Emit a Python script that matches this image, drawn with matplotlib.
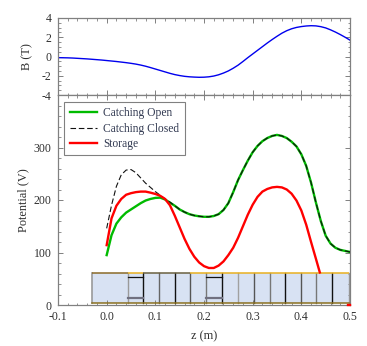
import numpy as np
import matplotlib
matplotlib.use('Agg')
from matplotlib import pyplot as plt

plt.rcParams['font.family'] = ['Liberation Serif', 'DejaVu Serif']

# magnetic field on axis, read every 0.01 m
z_b = [-0.10, -0.09, -0.08, -0.07, -0.06, -0.05, -0.04, -0.03, -0.02, -0.01,
       0.00, 0.01, 0.02, 0.03, 0.04, 0.05, 0.06, 0.07, 0.08, 0.09,
       0.10, 0.11, 0.12, 0.13, 0.14, 0.15, 0.16, 0.17, 0.18, 0.19,
       0.20, 0.21, 0.22, 0.23, 0.24, 0.25, 0.26, 0.27, 0.28, 0.29,
       0.30, 0.31, 0.32, 0.33, 0.34, 0.35, 0.36, 0.37, 0.38, 0.39,
       0.40, 0.41, 0.42, 0.43, 0.44, 0.45, 0.46, 0.47, 0.48, 0.49, 0.50]
b_field = [-0.12, -0.13, -0.14, -0.16, -0.19, -0.22, -0.25, -0.29, -0.33, -0.37,
           -0.42, -0.47, -0.52, -0.58, -0.64, -0.71, -0.79, -0.89, -1.01, -1.15,
           -1.30, -1.45, -1.60, -1.75, -1.88, -1.98, -2.06, -2.11, -2.14, -2.16,
           -2.15, -2.11, -2.03, -1.90, -1.72, -1.50, -1.22, -0.90, -0.52, -0.12,
           0.26, 0.64, 1.02, 1.40, 1.76, 2.10, 2.42, 2.68, 2.88, 3.02,
           3.11, 3.17, 3.20, 3.18, 3.10, 2.97, 2.77, 2.54, 2.28, 2.00, 1.70]

# potentials
z_pot = [0.00, 0.01, 0.02, 0.03, 0.04, 0.05, 0.06, 0.07, 0.08, 0.09,
         0.10, 0.11, 0.12, 0.13, 0.14, 0.15, 0.16, 0.17, 0.18, 0.19,
         0.20, 0.21, 0.22, 0.23, 0.24, 0.25, 0.26, 0.27, 0.28, 0.29,
         0.30, 0.31, 0.32, 0.33, 0.34, 0.35, 0.36, 0.37, 0.38, 0.39,
         0.40, 0.41, 0.42, 0.43, 0.44, 0.45, 0.46, 0.47, 0.48, 0.49, 0.50]
open_v = [95, 133, 155, 167, 176, 182, 188, 194, 199, 202,
          204, 204.5, 201, 195, 189, 182, 177, 173, 170.5, 169,
          168, 168, 169.5, 173, 181, 194, 215, 238, 257, 275,
          291, 303, 312, 318, 322, 324, 322, 318, 311, 302,
          287, 265, 233, 195, 160, 132, 117, 109, 105, 103, 101]
closed_v = [146, 190, 226, 248, 257, 258, 252, 242, 232, 224,
            216, 209, 202, 196, 189, 182, 177, 173, 170.5, 169,
            168, 168, 169.5, 173, 181, 194, 215, 238, 257, 275,
            291, 303, 312, 318, 322, 324, 322, 318, 311, 302,
            287, 265, 233, 195, 160, 132, 117, 109, 105, 103, 101]

z_store = [0.00, 0.01, 0.02, 0.03, 0.04, 0.05, 0.06, 0.07, 0.08, 0.09,
           0.10, 0.11, 0.12, 0.13, 0.14, 0.15, 0.16, 0.17, 0.18, 0.19,
           0.20, 0.21, 0.22, 0.23, 0.24, 0.25, 0.26, 0.27, 0.28, 0.29,
           0.30, 0.31, 0.32, 0.33, 0.34, 0.35, 0.36, 0.37, 0.38, 0.39,
           0.40, 0.41, 0.42, 0.43, 0.438]
store_v = [114, 165, 189, 202, 210, 213, 215, 216, 216, 214,
           211.5, 208, 202, 190, 170, 148, 126, 107, 92, 81,
           74, 70.5, 70.5, 75, 83, 95, 109, 128, 150, 172,
           191, 206, 216, 221, 224, 225, 224, 220, 212, 199,
           180, 153, 120, 88, 62]

z_store_end = [0.495, 0.50]
store_end_v = [0, 0]

# trap electrodes along z
trap_left = -0.031
trap_right = 0.497
trap_bottom = 4.4
trap_top = 61.5
dividers = [0.044, 0.075, 0.108, 0.141, 0.172, 0.205, 0.237, 0.27, 0.302, 0.335, 0.367, 0.399, 0.431, 0.464]
divider_colors = ['#9a9a9a', '#111111', '#666666', '#111111', '#555555', '#777777', '#111111',
                  '#a0a0a0', '#555555', '#777777', '#111111', '#555555', '#777777', '#111111']
inner_spans = [(0.044, 0.075), (0.205, 0.237)]
inner_top = 53
inner_low = 14
# top edge colours, stretch by stretch
top_edges = [(-0.031, 0.044), (0.044, 0.075), (0.075, 0.172), (0.172, 0.205), (0.205, 0.497)]
top_colors = ['#8a6a28', '#e8b020', '#6a6040', '#e8b020', '#e8b020']

gray = '#808080'
txt = '#303030'
W, H = 367.0, 346.0
L, R = 58.0, 350.0

fig = plt.figure(figsize=(3.67, 3.46), dpi=100)
ax1 = fig.add_axes([L/W, 1-95/H, (R-L)/W, 77/H])
ax2 = fig.add_axes([L/W, 1-305/H, (R-L)/W, 210/H])

ax1.plot(z_b, b_field, color='#0000ee', lw=1.0)
ax1.set_xlim(-0.1, 0.5)
ax1.set_ylim(-4, 4)
ax1.set_yticks([-4, -2, 0, 2, 4])
ax1.set_yticklabels(['-4', '-2', '0', '2', '4'])
ax1.set_yticks(np.arange(-4, 4.1, 0.5), minor=True)
ax1.set_ylabel('B (T)', fontsize=8.8, color=txt)
ax1.yaxis.set_label_coords(-0.086, 0.5)

# trap goes under the curves
ax2.fill_between([trap_left, trap_right], trap_bottom, trap_top, color='#d8e2f3', lw=0, zorder=1)
ax2.plot([trap_left, trap_left], [trap_bottom, trap_top], color='#999999', lw=1.2, zorder=2)
ax2.plot([trap_right, trap_right], [trap_bottom, trap_top], color='#999999', lw=1.0, zorder=2)
for d, c in zip(dividers, divider_colors):
    ax2.plot([d, d], [trap_bottom, trap_top], color=c, lw=1.0, zorder=2)
for a, b in inner_spans:
    ax2.plot([a, b], [inner_top, inner_top], color='#111111', lw=0.9, zorder=2)
    ax2.plot([a, b], [inner_low, inner_low], color='#707080', lw=1.6, zorder=2)
for (a, b), c in zip(top_edges, top_colors):
    ax2.plot([a, b], [trap_top, trap_top], color=c, lw=1.1, zorder=3, solid_capstyle='butt')
ax2.plot([trap_left, trap_right], [trap_bottom, trap_bottom], color='#8a7020', lw=1.1, zorder=3)

ax2.plot(z_pot, open_v, color='#00bb00', lw=1.7, zorder=4, label='Catching Open')
ax2.plot(z_pot, closed_v, color='#111111', lw=0.8, ls=(0, (5, 2.5)), zorder=5, label='Catching Closed')
ax2.plot(z_store, store_v, color='#ff0000', lw=1.7, zorder=6, label='Storage')
ax2.plot(z_store_end, store_end_v, color='#ff0000', lw=1.7, zorder=6, clip_on=False)

ax2.set_xlim(-0.1, 0.5)
ax2.set_ylim(0, 400)
ax2.set_xticks([-0.1, 0.0, 0.1, 0.2, 0.3, 0.4, 0.5])
ax2.set_xticklabels(['-0.1', '0.0', '0.1', '0.2', '0.3', '0.4', '0.5'])
ax2.set_xticks(np.arange(-0.1, 0.501, 0.02), minor=True)
ax2.set_yticks([0, 100, 200, 300])
ax2.set_yticks(np.arange(0, 401, 20), minor=True)
ax2.set_xlabel('z (m)', fontsize=8.8, color=txt, labelpad=5)
ax2.set_ylabel('Potential (V)', fontsize=8.8, color=txt)
ax2.yaxis.set_label_coords(-0.098, 0.5)

ax1.set_xticks([-0.1, 0.0, 0.1, 0.2, 0.3, 0.4, 0.5])
ax1.set_xticks(np.arange(-0.1, 0.501, 0.02), minor=True)
ax1.set_xticklabels([])

for ax in [ax1, ax2]:
    for s in ax.spines.values():
        s.set_color(gray)
        s.set_linewidth(0.9)
    ax.tick_params(which='major', direction='in', top=True, right=True, length=3.5, width=0.7, color=gray,
                   labelsize=8.5, labelcolor=txt, pad=4.5)
    ax.tick_params(which='minor', direction='in', top=True, right=True, length=1.8, width=0.6, color=gray)

leg = ax2.legend(loc='upper left', bbox_to_anchor=(6.3/292, 1-6.7/210), borderaxespad=0, fontsize=8.3,
                 frameon=True, framealpha=1, fancybox=False, edgecolor=gray, labelspacing=0.27,
                 handlelength=2.35, handletextpad=0.5, borderpad=0.5, labelcolor='#303850')
leg.get_frame().set_linewidth(0.8)
leg.set_zorder(10)

fig.savefig('out.png', dpi=100)
